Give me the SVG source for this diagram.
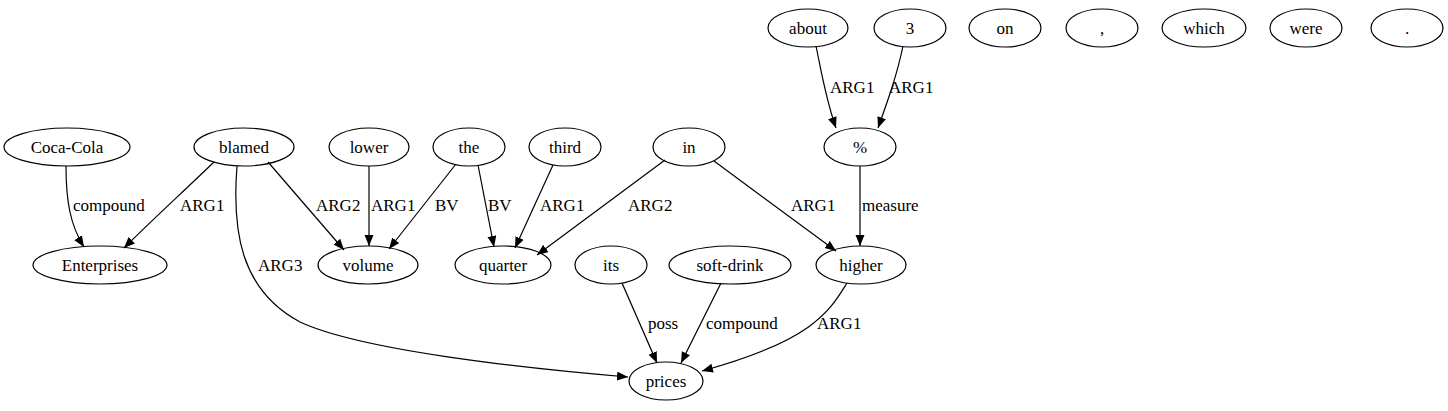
<svg xmlns="http://www.w3.org/2000/svg" width="1448" height="411" viewBox="0 0 1448 411" font-family="Liberation Serif, Times New Roman, serif" font-size="17">
<style>
.n ellipse{fill:none;stroke:#000;stroke-width:1.2}
.n text{text-anchor:middle}
.e path{fill:none;stroke:#000;stroke-width:1.2;marker-end:url(#ah)}
</style>
<defs>
<marker id="ah" markerUnits="userSpaceOnUse" markerWidth="12" markerHeight="10" refX="11" refY="4.5" orient="auto">
<path d="M0,0 L11,4.5 L0,9 z" fill="#000"/>
</marker>
</defs>
<rect width="1448" height="411" fill="#fff"/>
<g id="edges" class="e">
<path d="M66,166 C66,200 70,225 84,247"/>
<path d="M214,162 C185,190 150,222 124,248"/>
<path d="M268,162 L344,250"/>
<path d="M237,166 C232,230 240,290 300,322 C360,350 520,368 628,377"/>
<path d="M369,166 L369,246"/>
<path d="M456,164 L389,249"/>
<path d="M478,165 L494,247"/>
<path d="M553,165 L515,248"/>
<path d="M665,160 L537,255"/>
<path d="M714,161 L836,251"/>
<path d="M860,166 L860,246"/>
<path d="M816,46 C822,75 826,100 836,128"/>
<path d="M903,46 C897,75 888,100 878,128"/>
<path d="M622,283 L657,363"/>
<path d="M721,283 L681,363"/>
<path d="M847,283 C830,310 815,340 702,371"/>
<text x="73" y="211">compound</text>
<text x="180" y="211">ARG1</text>
<text x="316" y="211">ARG2</text>
<text x="258" y="271">ARG3</text>
<text x="371" y="211">ARG1</text>
<text x="435" y="211">BV</text>
<text x="488" y="211">BV</text>
<text x="540" y="211">ARG1</text>
<text x="628" y="211">ARG2</text>
<text x="791" y="211">ARG1</text>
<text x="862" y="211">measure</text>
<text x="830" y="93">ARG1</text>
<text x="889" y="93">ARG1</text>
<text x="648" y="329">poss</text>
<text x="706" y="329">compound</text>
<text x="817" y="329">ARG1</text>
</g>
<g id="n-about" class="n"><ellipse cx="808" cy="28" rx="40" ry="19"/><text x="808" y="34">about</text></g>
<g id="n-3" class="n"><ellipse cx="910" cy="28" rx="36" ry="19"/><text x="910" y="34">3</text></g>
<g id="n-on" class="n"><ellipse cx="1005" cy="28" rx="36" ry="19"/><text x="1005" y="34">on</text></g>
<g id="n-comma" class="n"><ellipse cx="1102" cy="28" rx="36" ry="19"/><text x="1102" y="34">,</text></g>
<g id="n-which" class="n"><ellipse cx="1204" cy="28" rx="42" ry="19"/><text x="1204" y="34">which</text></g>
<g id="n-were" class="n"><ellipse cx="1306" cy="28" rx="36" ry="19"/><text x="1306" y="34">were</text></g>
<g id="n-period" class="n"><ellipse cx="1407" cy="28" rx="36" ry="19"/><text x="1407" y="34">.</text></g>
<g id="n-cocacola" class="n"><ellipse cx="67" cy="147" rx="63" ry="19"/><text x="67" y="153">Coca-Cola</text></g>
<g id="n-blamed" class="n"><ellipse cx="244" cy="147" rx="50" ry="19"/><text x="244" y="153">blamed</text></g>
<g id="n-lower" class="n"><ellipse cx="369" cy="147" rx="40" ry="19"/><text x="369" y="153">lower</text></g>
<g id="n-the" class="n"><ellipse cx="469" cy="147" rx="36" ry="19"/><text x="469" y="153">the</text></g>
<g id="n-third" class="n"><ellipse cx="565" cy="147" rx="36" ry="19"/><text x="565" y="153">third</text></g>
<g id="n-in" class="n"><ellipse cx="689" cy="147" rx="36" ry="19"/><text x="689" y="153">in</text></g>
<g id="n-pct" class="n"><ellipse cx="860" cy="147" rx="36" ry="19"/><text x="860" y="153">%</text></g>
<g id="n-enterprises" class="n"><ellipse cx="100" cy="265" rx="67" ry="19"/><text x="100" y="271">Enterprises</text></g>
<g id="n-volume" class="n"><ellipse cx="368" cy="265" rx="50" ry="19"/><text x="368" y="271">volume</text></g>
<g id="n-quarter" class="n"><ellipse cx="503" cy="265" rx="48" ry="19"/><text x="503" y="271">quarter</text></g>
<g id="n-its" class="n"><ellipse cx="611" cy="265" rx="36" ry="19"/><text x="611" y="271">its</text></g>
<g id="n-softdrink" class="n"><ellipse cx="730" cy="265" rx="61" ry="19"/><text x="730" y="271">soft-drink</text></g>
<g id="n-higher" class="n"><ellipse cx="861" cy="265" rx="45" ry="19"/><text x="861" y="271">higher</text></g>
<g id="n-prices" class="n"><ellipse cx="666" cy="381" rx="37" ry="19"/><text x="666" y="387">prices</text></g>
</svg>
